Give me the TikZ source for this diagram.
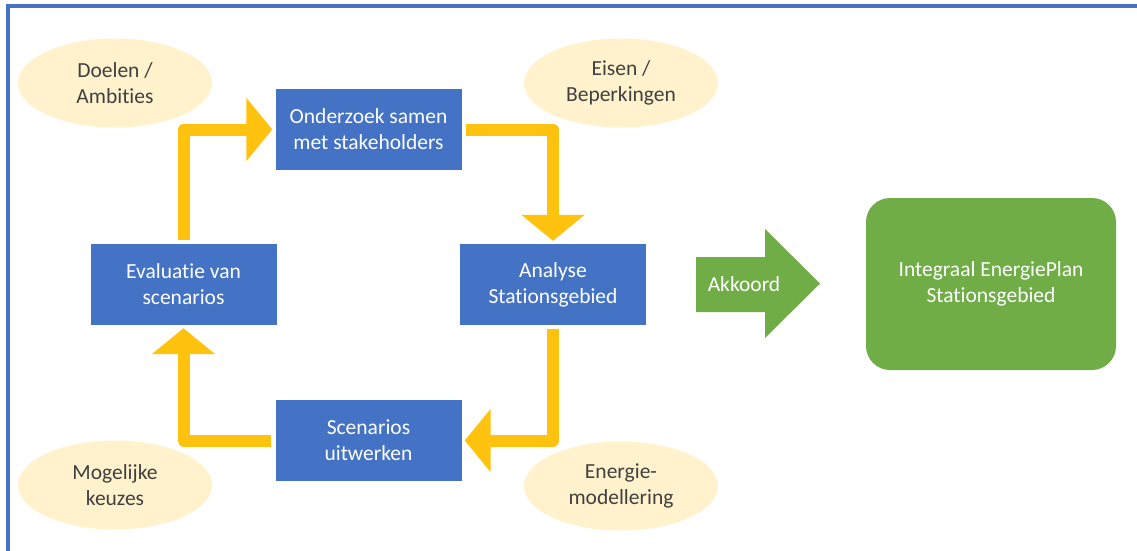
\documentclass[tikz,border=0pt]{standalone}
\usepackage{fontspec}
\setmainfont{Carlito}[Ligatures=NoCommon]
\usetikzlibrary{arrows.meta,shapes.geometric}
\definecolor{oblue}{HTML}{4472C4}
\definecolor{ogold}{HTML}{FFC20E}
\definecolor{ocream}{HTML}{FFF2CC}
\definecolor{ogreen}{HTML}{70AD47}
\definecolor{otext}{HTML}{404040}
\begin{document}
\begin{tikzpicture}[x=1pt,y=-1pt,
  txt/.style={font=\fontsize{21.5}{26}\selectfont, align=center},
  box/.style={txt, fill=oblue, text=white, minimum width=186pt, minimum height=81pt, inner sep=0pt},
  bubble/.style={txt, ellipse, fill=ocream, text=otext, minimum width=194pt, minimum height=89pt, inner sep=0pt},
  flow/.style={draw=ogold, line width=12pt, line join=round, -{Triangle[width=62pt,length=26pt]}, shorten <=4pt, shorten >=3pt}
]
\useasboundingbox (0,0) rectangle (1137,550);
\fill[white] (0,0) rectangle (1137,550);
% frame
\draw[oblue, line width=4pt] (8,552) -- (8,6) -- (1139,6);
% ellipses
\node[bubble] (doel) at (115,83) {Doelen /\\Ambities};
\node[bubble] (eisen) at (621,83) {Eisen /\\Beperkingen};
\node[bubble] (moge) at (115,485) {Mogelijke\\keuzes};
\node[bubble] (energie) at (621,486) {Energie-\\modellering};
% boxes
\node[box] (onder) at (368.5,129.5) {Onderzoek samen\\met stakeholders};
\node[box] (eval) at (183.5,284.5) {Evaluatie van\\scenarios};
\node[box] (anal) at (553,284.5) {Analyse\\Stationsgebied};
\node[box] (scen) at (368.5,440.5) {Scenarios\\uitwerken};
% cycle arrows
\draw[flow] (eval.north) |- (onder.west);
\draw[flow] (onder.east) -| (anal.north);
\draw[flow] (anal.south) |- (scen.east);
\draw[flow] (scen.west) -| (eval.south);
% green arrow
\fill[ogreen] (696,257) -- (765,257) -- (765,229) -- (820,283.5) -- (765,338) -- (765,312) -- (696,312) -- cycle;
\node[txt, text=white, inner sep=0pt] (akk) at (744,284) {Akkoord};
% plan
\node[txt, fill=ogreen, text=white, rounded corners=24pt, minimum width=250pt, minimum height=172pt, inner sep=0pt] (plan) at (991,284) {Integraal EnergiePlan\\Stationsgebied};
\end{tikzpicture}
\end{document}
